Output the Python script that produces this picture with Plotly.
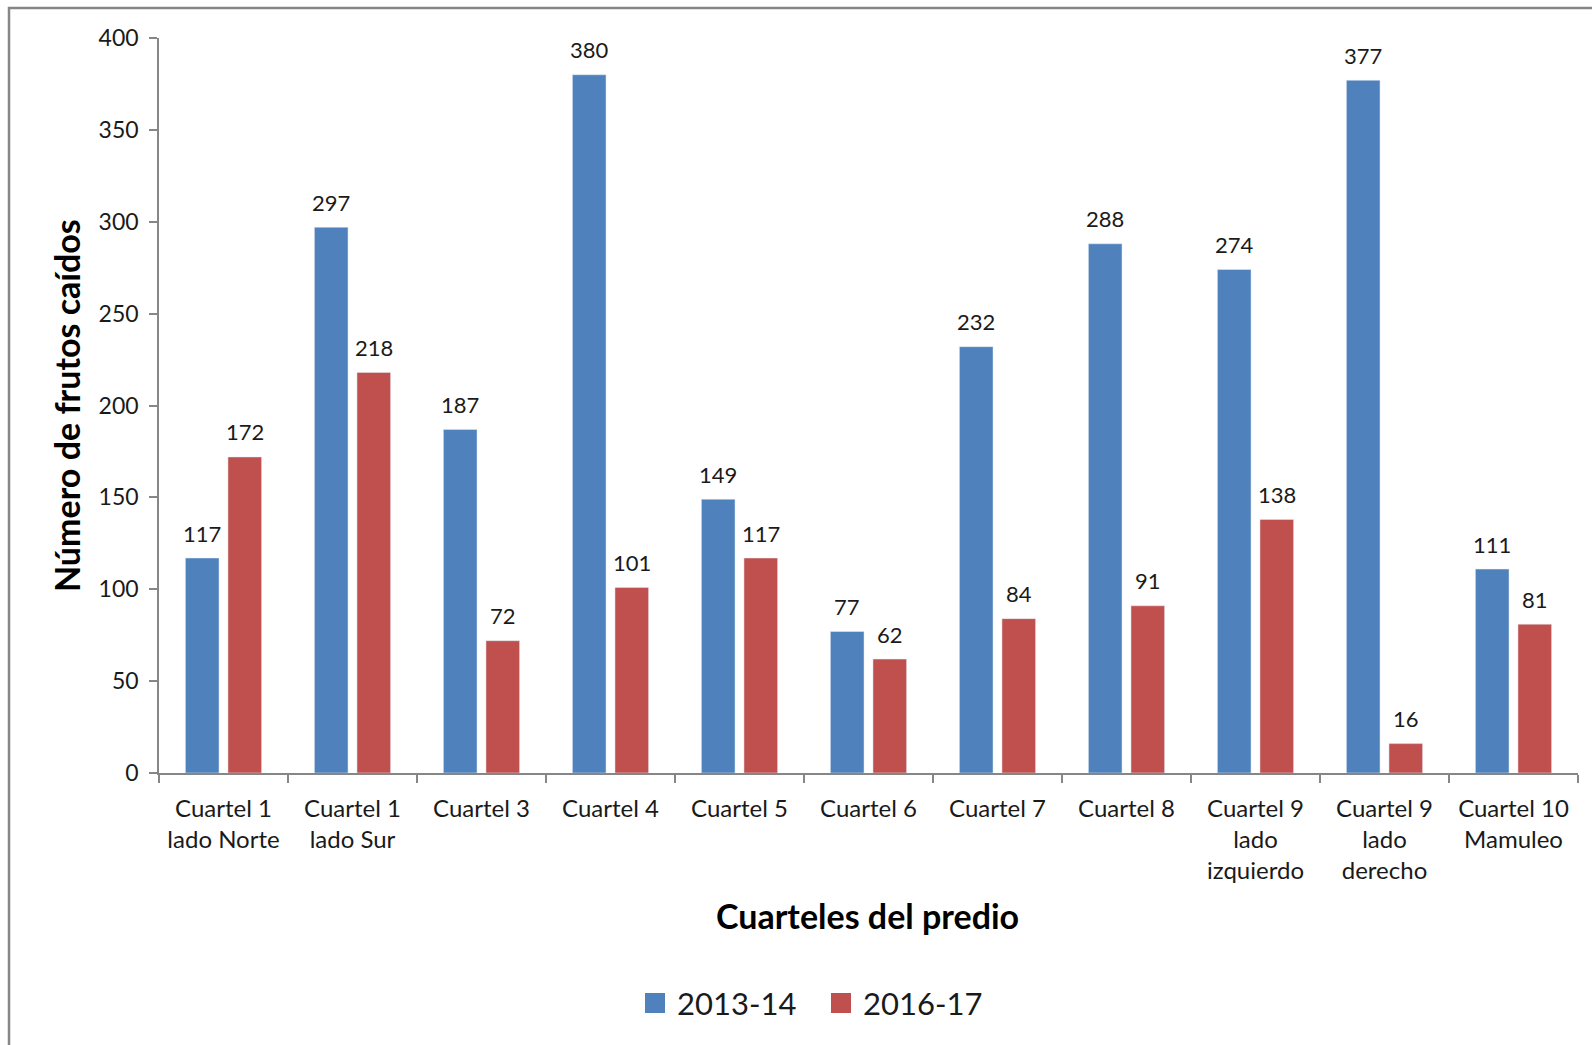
import plotly.graph_objects as go

categories = ["Cuartel 1<br>lado Norte", "Cuartel 1<br>lado Sur", "Cuartel 3", "Cuartel 4",
              "Cuartel 5", "Cuartel 6", "Cuartel 7", "Cuartel 8",
              "Cuartel 9<br>lado<br>izquierdo", "Cuartel 9<br>lado<br>derecho", "Cuartel 10<br>Mamuleo"]
series_names = ["2013-14", "2016-17"]
series_2013 = [117, 297, 187, 380, 149, 77, 232, 288, 274, 377, 111]
series_2016 = [172, 218, 72, 101, 117, 62, 84, 91, 138, 16, 81]
y_ticks = [0, 50, 100, 150, 200, 250, 300, 350, 400]
colors = ["#4F81BD", "#C0504D"]

W, H = 1592, 1045
L, R, T, B = 159, 1578, 38, 773
pw, ph = R - L, B - T
BARGAP, GROUPGAP = 0.34, 0.21

def px_x(x):
    return (x - L) / pw

def px_y(y):
    return (B - y) / ph

FONT = "Lato"
TXT = "#1a1a1a"

fig = go.Figure()
for name, vals, col in zip(series_names, [series_2013, series_2016], colors):
    fig.add_trace(go.Bar(name=name, x=categories, y=vals, marker_color=col, showlegend=False))

# data labels placed above each bar (centre of each grouped bar)
slot = pw / len(categories) * (1 - BARGAP) / 2
for i, vals in enumerate([series_2013, series_2016]):
    shift = (i - 0.5) * slot
    for c, v in zip(categories, vals):
        fig.add_annotation(x=c, y=v, xref="x", yref="y", text=str(v), showarrow=False,
                           xanchor="center", yanchor="middle", xshift=shift, yshift=25,
                           font=dict(size=22, family=FONT, color=TXT))

fig.update_layout(
    width=W, height=H,
    margin=dict(l=L, r=W - R, t=T, b=H - B, autoexpand=False),
    paper_bgcolor="white", plot_bgcolor="white",
    barmode="group", bargap=BARGAP, bargroupgap=GROUPGAP,
    font=dict(family=FONT, color=TXT, size=22),
    showlegend=False,
)
fig.update_xaxes(
    range=[-0.5, 10.5], showline=True, linecolor="#868686", linewidth=1.5,
    ticks="outside", tickson="boundaries", ticklen=8, tickcolor="#868686", tickwidth=1.5,
    tickfont=dict(size=24, family=FONT, color=TXT), showgrid=False, zeroline=False,
    ticklabelstandoff=13,
)
fig.update_yaxes(
    range=[0, 400], tickvals=y_ticks, showline=True, linecolor="#868686", linewidth=1.5,
    ticks="outside", ticklen=8, tickcolor="#868686", tickwidth=1.5,
    tickfont=dict(size=23, family=FONT, color=TXT), showgrid=False, zeroline=False,
    ticklabelstandoff=6,
)

fig.add_annotation(text="<b>Cuarteles del predio</b>", xref="paper", yref="paper",
                   x=px_x(867), y=px_y(915), xanchor="center", yanchor="middle",
                   showarrow=False, font=dict(size=34, family=FONT, color="black"))
fig.add_annotation(text="<b>Número de frutos caídos</b>", xref="paper", yref="paper",
                   x=px_x(67), y=px_y(406), xanchor="center", yanchor="middle", textangle=-90,
                   showarrow=False, font=dict(size=34, family=FONT, color="black"))

# legend drawn manually (larger swatches as in reference)
legend_sw_x = [645, 831]
legend_tx_x = [675, 861]
for name, col, sx, tx in zip(series_names, colors, legend_sw_x, legend_tx_x):
    fig.add_shape(type="rect", xref="paper", yref="paper",
                  x0=px_x(sx), x1=px_x(sx + 20), y0=px_y(1013), y1=px_y(993),
                  fillcolor=col, line=dict(width=0))
    fig.add_annotation(text=name, xref="paper", yref="paper", x=px_x(tx), y=px_y(1003),
                       xanchor="left", yanchor="middle", showarrow=False,
                       font=dict(size=31, family=FONT, color=TXT))

# chart-area border (top and left visible)
fig.add_shape(type="rect", xref="paper", yref="paper",
              x0=px_x(9), x1=px_x(W + 20), y0=px_y(H + 20), y1=px_y(8),
              line=dict(color="#868686", width=2.5), fillcolor="rgba(0,0,0,0)", layer="below")

fig.write_html("out.html")
